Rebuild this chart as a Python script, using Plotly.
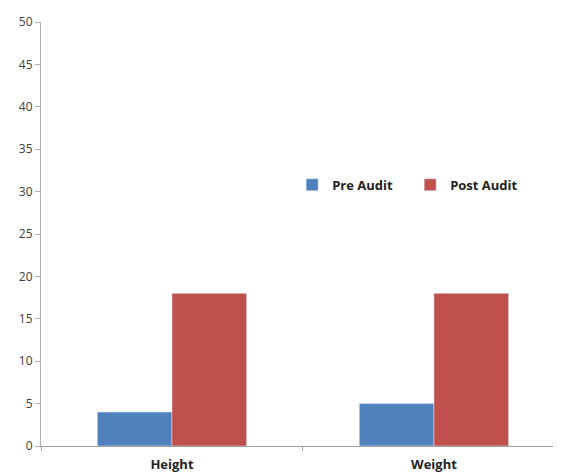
import plotly.graph_objects as go

categories = ["Height", "Weight"]
pre_audit = [4, 5]
post_audit = [18, 18]
y_ticks = [0, 5, 10, 15, 20, 25, 30, 35, 40, 45, 50]

fig = go.Figure()
fig.add_trace(go.Bar(name="Pre Audit", x=categories, y=pre_audit, marker_color="#4F81BD"))
fig.add_trace(go.Bar(name="Post Audit", x=categories, y=post_audit, marker_color="#C0504D"))

fig.update_layout(
    width=553, height=465,
    margin=dict(l=33, r=0, t=14, b=27, autoexpand=False),
    paper_bgcolor="white", plot_bgcolor="white",
    barmode="group", bargap=0.43, bargroupgap=0,
    font=dict(family="Open Sans", size=12, color="#404040"),
    legend=dict(orientation="h", x=0.483, y=0.616, xanchor="left", yanchor="middle",
                font=dict(family="Open Sans", size=13, color="#222222", weight="bold"),
                itemwidth=30, entrywidth=73, bgcolor="rgba(0,0,0,0)"),
    showlegend=True,
)
fig.update_xaxes(
    type="category", range=[-0.5, 1.485],
    showline=True, linecolor="#A0A0A0", linewidth=1,
    ticks="outside", tickson="boundaries", ticklen=4, tickcolor="#A0A0A0",
    ticklabelstandoff=6,
    tickfont=dict(family="Open Sans", size=13, color="#222222", weight="bold"),
    showgrid=False,
)
fig.update_yaxes(
    range=[0, 50], tickvals=y_ticks,
    showline=True, linecolor="#B0B0B0", linewidth=1,
    ticks="outside", ticklen=5, tickcolor="#B0B0B0",
    showgrid=False, zeroline=False,
    tickfont=dict(family="Open Sans", size=12, color="#404040"),
)

fig.write_html("out.html")
